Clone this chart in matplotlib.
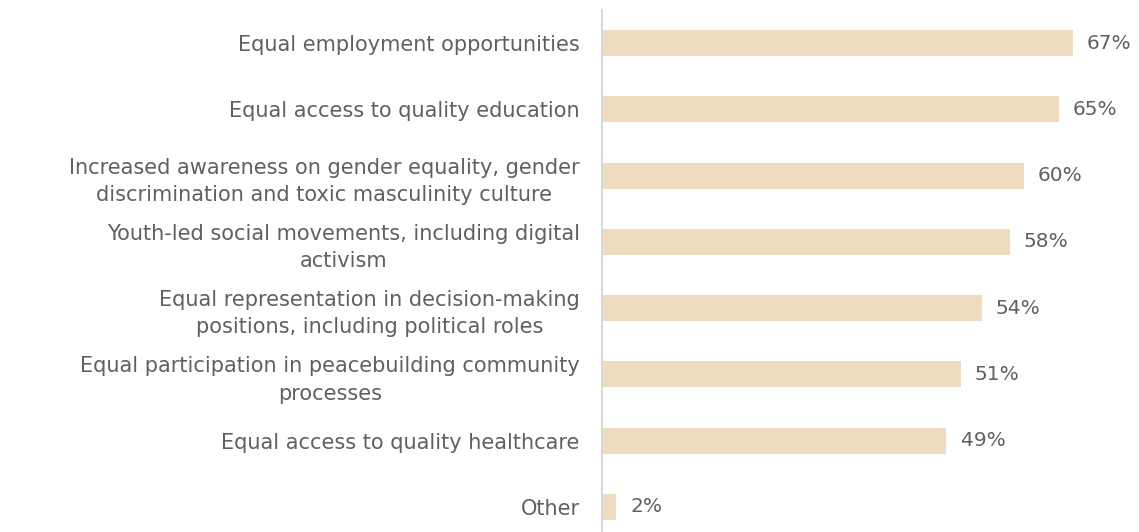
import matplotlib.pyplot as plt

categories = [
    "Equal employment opportunities",
    "Equal access to quality education",
    "Increased awareness on gender equality, gender\ndiscrimination and toxic masculinity culture",
    "Youth-led social movements, including digital\nactivism",
    "Equal representation in decision-making\npositions, including political roles",
    "Equal participation in peacebuilding community\nprocesses",
    "Equal access to quality healthcare",
    "Other",
]
values = [67, 65, 60, 58, 54, 51, 49, 2]

bar_color = "#EFDCBE"
text_color = "#606060"

plt.rcParams["font.family"] = ["DejaVu Sans"]

fig = plt.figure(figsize=(11.39, 5.32), dpi=100)
ax = fig.add_axes([602 / 1139, 0, 537 / 1139, 1 - 10 / 532])

pos = list(range(len(categories)))
ax.barh(pos, values, height=0.39, color=bar_color)

for p, v in zip(pos, values):
    ax.text(v + 2.0, p, f"{v}%", va="center", ha="left", fontsize=14.5, color=text_color)

ax.set_yticks(pos)
ax.set_yticklabels(categories, fontsize=15, color=text_color,
                   multialignment="center", linespacing=1.45)
ax.tick_params(axis="y", length=0, pad=16)
ax.set_xticks([])
ax.set_xlim(0, 537 / 7.03)
ax.set_ylim(7.38, -0.5)

for s in ["top", "right", "bottom"]:
    ax.spines[s].set_visible(False)
ax.spines["left"].set_color("#D9D9D9")
ax.spines["left"].set_linewidth(1.5)

fig.savefig("out.png", dpi=100)
